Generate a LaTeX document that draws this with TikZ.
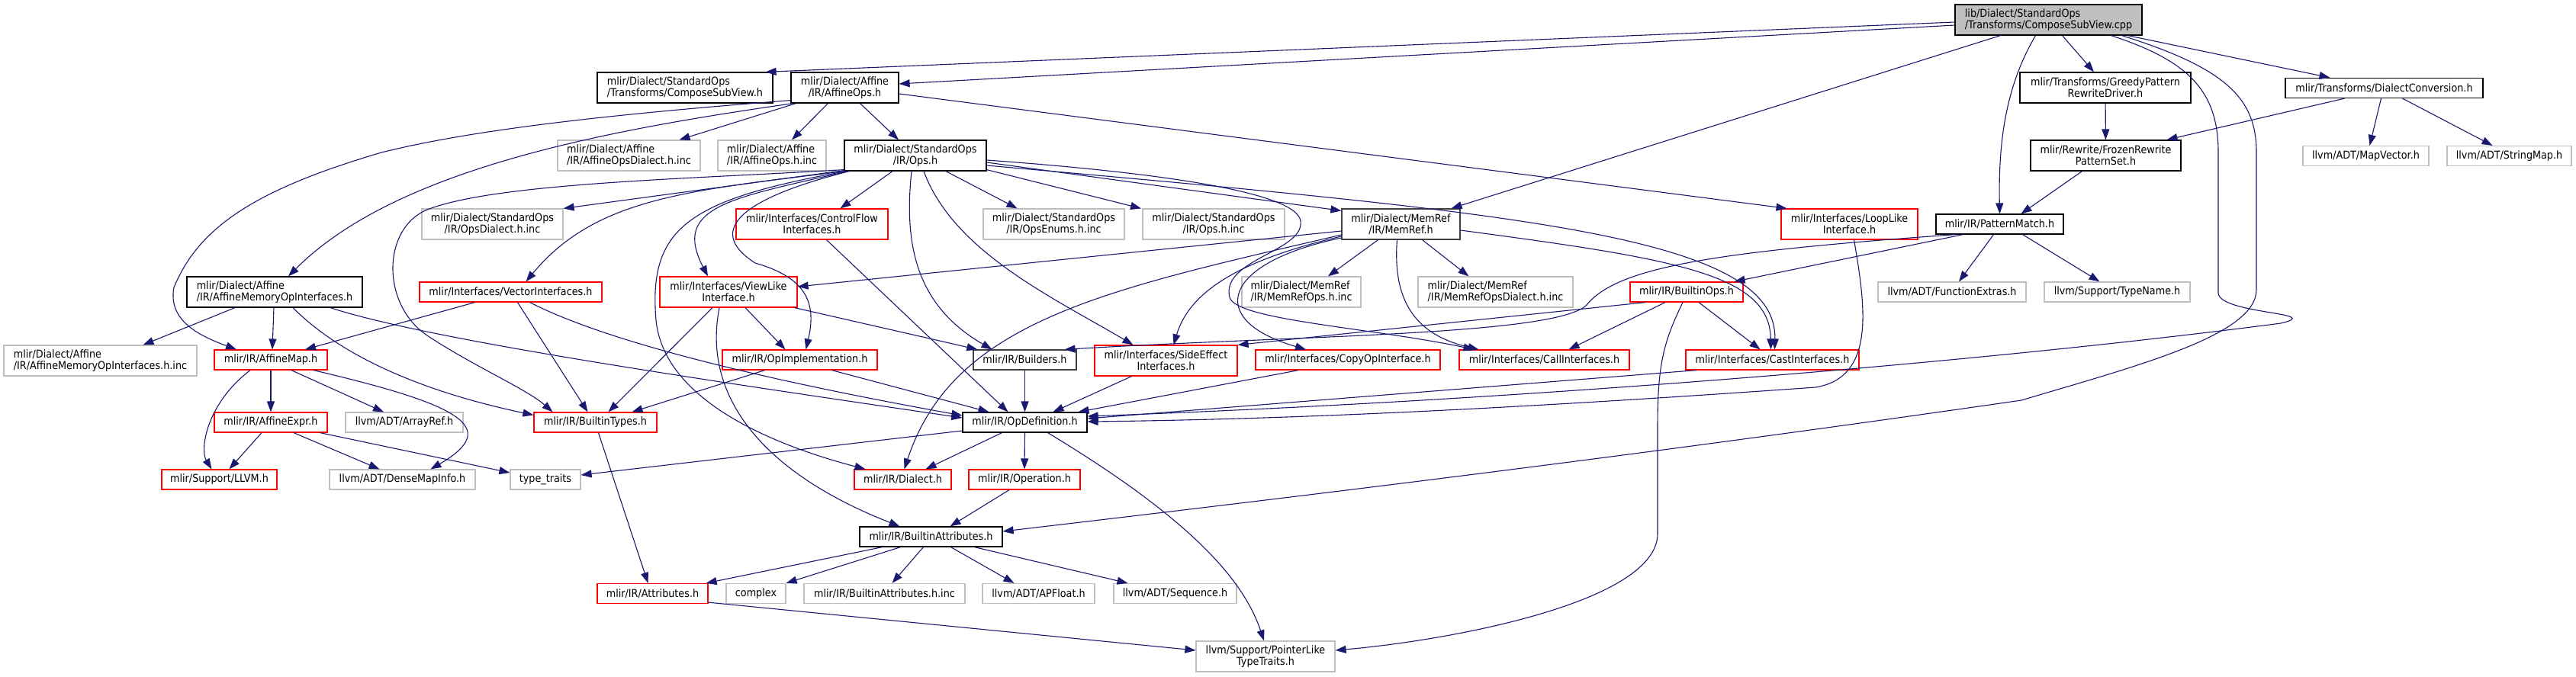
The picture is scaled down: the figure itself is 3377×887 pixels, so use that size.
\documentclass[tikz,border=0pt]{standalone}
\usepackage{fontspec}
\setmainfont{DejaVu Sans}[FakeStretch=0.9]
\usetikzlibrary{arrows.meta}
\definecolor{edgeblue}{HTML}{191970}
\definecolor{extgray}{HTML}{BFBFBF}
\tikzset{
  file/.style={draw, rectangle, inner sep=0pt, line width=1.2pt, minimum height=26pt, font=\fontsize{14.2pt}{15pt}\selectfont},
  twoline/.style={minimum height=40pt},
  hfile/.style={file, draw=black},
  rfile/.style={file, draw=red},
  xfile/.style={file, draw=extgray},
  inc/.style={draw=edgeblue, line width=1.1pt, -{Triangle[length=14pt,width=10pt]}},
}
\begin{document}
\begin{tikzpicture}[x=1pt,y=-1pt]
    \useasboundingbox (0,0) rectangle (3377,887);

    \node[hfile, fill=extgray, twoline, minimum width=245pt, align=left] (cpp) at (2685.5,26) {lib/Dialect/StandardOps\\/Transforms/ComposeSubView.cpp};

    \node[hfile, twoline, minimum width=230pt, align=left] (csv) at (898,115) {mlir/Dialect/StandardOps\\/Transforms/ComposeSubView.h};
    \node[hfile, twoline, minimum width=141pt, align=center] (aff) at (1107.5,115) {mlir/Dialect/Affine\\/IR/AffineOps.h};
    \node[hfile, twoline, minimum width=224pt, align=center] (greedy) at (2760,115) {mlir/Transforms/GreedyPattern\\RewriteDriver.h};
    \node[hfile, minimum width=259pt] (dconv) at (3125.5,115.5) {mlir/Transforms/DialectConversion.h};

    \node[xfile, twoline, minimum width=187pt, align=left] (affdi) at (824.5,204) {mlir/Dialect/Affine\\/IR/AffineOpsDialect.h.inc};
    \node[xfile, twoline, minimum width=142pt, align=left] (affinc) at (1012,204) {mlir/Dialect/Affine\\/IR/AffineOps.h.inc};
    \node[hfile, twoline, minimum width=186pt, align=center] (stdops) at (1200,204) {mlir/Dialect/StandardOps\\/IR/Ops.h};
    \node[hfile, twoline, minimum width=197pt, align=center] (frozen) at (2760.5,204) {mlir/Rewrite/FrozenRewrite\\PatternSet.h};
    \node[xfile, minimum width=165pt] (mapvec) at (3101.5,204.5) {llvm/ADT/MapVector.h};
    \node[xfile, minimum width=163pt] (strmap) at (3289.5,204.5) {llvm/ADT/StringMap.h};

    \node[xfile, twoline, minimum width=185pt, align=center] (opsdi) at (645.5,294) {mlir/Dialect/StandardOps\\/IR/OpsDialect.h.inc};
    \node[rfile, twoline, minimum width=199pt, align=center] (cflow) at (1064.5,294) {mlir/Interfaces/ControlFlow\\Interfaces.h};
    \node[xfile, twoline, minimum width=185pt, align=center] (opsenum) at (1381.5,294) {mlir/Dialect/StandardOps\\/IR/OpsEnums.h.inc};
    \node[xfile, twoline, minimum width=186pt, align=center] (opsinc) at (1591,294) {mlir/Dialect/StandardOps\\/IR/Ops.h.inc};
    \node[hfile, draw=black!75, twoline, minimum width=155pt, align=center] (memref) at (1836.5,294) {mlir/Dialect/MemRef\\/IR/MemRef.h};
    \node[rfile, twoline, minimum width=179pt, align=center] (looplike) at (2424.5,294) {mlir/Interfaces/LoopLike\\Interface.h};
    \node[hfile, minimum width=167pt] (pmatch) at (2621.5,294) {mlir/IR/PatternMatch.h};

    \node[hfile, twoline, minimum width=230pt, align=left] (amoi) at (360,383) {mlir/Dialect/Affine\\/IR/AffineMemoryOpInterfaces.h};
    \node[rfile, minimum width=239pt] (vecint) at (669.5,383) {mlir/Interfaces/VectorInterfaces.h};
    \node[rfile, twoline, minimum width=180pt, align=center] (viewlike) at (955,383) {mlir/Interfaces/ViewLike\\Interface.h};
    \node[xfile, twoline, minimum width=156pt, align=left] (mrops) at (1706,383) {mlir/Dialect/MemRef\\/IR/MemRefOps.h.inc};
    \node[xfile, twoline, minimum width=203pt, align=left] (mrdi) at (1960.5,383) {mlir/Dialect/MemRef\\/IR/MemRefOpsDialect.h.inc};
    \node[rfile, minimum width=148pt] (bops) at (2211,383) {mlir/IR/BuiltinOps.h};
    \node[xfile, minimum width=194pt] (fext) at (2559,383) {llvm/ADT/FunctionExtras.h};
    \node[xfile, minimum width=191pt] (tname) at (2775.5,383) {llvm/Support/TypeName.h};

    \node[xfile, twoline, minimum width=253pt, align=left] (amoiinc) at (131.5,473) {mlir/Dialect/Affine\\/IR/AffineMemoryOpInterfaces.h.inc};
    \node[rfile, minimum width=148pt] (amap) at (355,472) {mlir/IR/AffineMap.h};
    \node[rfile, minimum width=203pt] (opimpl) at (1048.5,472) {mlir/IR/OpImplementation.h};
    \node[hfile, draw=black!75, minimum width=135pt] (builders) at (1343.5,472) {mlir/IR/Builders.h};
    \node[rfile, twoline, minimum width=187pt, align=center] (sideeff) at (1528.5,473) {mlir/Interfaces/SideEffect\\Interfaces.h};
    \node[rfile, minimum width=242pt] (copyop) at (1767,472) {mlir/Interfaces/CopyOpInterface.h};
    \node[rfile, minimum width=223pt] (callint) at (2024.5,472) {mlir/Interfaces/CallInterfaces.h};
    \node[rfile, minimum width=227pt] (castint) at (2323.5,472) {mlir/Interfaces/CastInterfaces.h};

    \node[rfile, minimum width=148pt] (aexpr) at (355,554) {mlir/IR/AffineExpr.h};
    \node[xfile, minimum width=154pt] (aref) at (530,554) {llvm/ADT/ArrayRef.h};
    \node[rfile, minimum width=161pt] (btypes) at (780.5,554) {mlir/IR/BuiltinTypes.h};
    \node[hfile, minimum width=163pt] (opdef) at (1343.5,554) {mlir/IR/OpDefinition.h};

    \node[rfile, minimum width=151pt] (llvmh) at (287.5,629) {mlir/Support/LLVM.h};
    \node[xfile, minimum width=191pt] (dmi) at (527.5,629) {llvm/ADT/DenseMapInfo.h};
    \node[xfile, minimum width=92pt] (ttraits) at (715,629) {type\_traits};
    \node[rfile, minimum width=127pt] (dialect) at (1183.5,629) {mlir/IR/Dialect.h};
    \node[rfile, minimum width=146pt] (operation) at (1343,629) {mlir/IR/Operation.h};

    \node[hfile, minimum width=187pt] (battr) at (1220.5,704) {mlir/IR/BuiltinAttributes.h};

    \node[rfile, minimum width=145pt] (attrs) at (855.5,778.5) {mlir/IR/Attributes.h};
    \node[xfile, minimum width=78pt] (complex) at (991,778.5) {complex};
    \node[xfile, minimum width=211pt] (battrinc) at (1159.5,778.5) {mlir/IR/BuiltinAttributes.h.inc};
    \node[xfile, minimum width=147pt] (apfloat) at (1361.5,778.5) {llvm/ADT/APFloat.h};
    \node[xfile, minimum width=161pt] (seq) at (1540.5,778.5) {llvm/ADT/Sequence.h};

    \node[xfile, twoline, minimum width=182pt, align=center] (ptrlike) at (1659,861) {llvm/Support/PointerLike\\TypeTraits.h};

    \draw[inc] ([yshift=-3pt]cpp.west) -- ([xshift=-10pt]csv.north east);
    \draw[inc] ([yshift=-7pt]cpp.west) -- ([yshift=5pt]aff.east);
    \draw[inc] ([xshift=-63pt]cpp.south) -- ([xshift=66pt]memref.north);
    \draw[inc] ([xshift=-17pt]cpp.south) .. controls (2625,120) and (2620,200) .. (pmatch.north);
    \draw[inc] ([xshift=18pt]cpp.south) -- ([xshift=-15pt]greedy.north);
    \draw[inc] ([xshift=104pt]cpp.south) -- ([xshift=-71pt]dconv.north);
    \draw[inc] ([xshift=82pt]cpp.south) .. controls (2870,80) and (2908,120) .. (2908,200) -- (2908,385)
        .. controls (2912,412) and (3050,410) .. (2990,424) .. controls (2600,475) and (2000,525) .. ([yshift=8pt]opdef.east);
    \draw[inc] ([xshift=96pt]cpp.south) .. controls (2920,90) and (2958,130) .. (2958,200) -- (2958,380)
        .. controls (2958,440) and (2800,480) .. (2650,525) .. controls (2200,590) and (1800,640) .. ([yshift=7pt]battr.east);

    \draw[inc] (greedy) -- (frozen);
    \draw[inc] ([xshift=-52pt]dconv.south) -- ([xshift=80pt]frozen.north);
    \draw[inc] ([xshift=-4pt]dconv.south) -- ([xshift=5pt]mapvec.north);
    \draw[inc] ([xshift=24pt]dconv.south) -- ([xshift=-22pt]strmap.north);
    \draw[inc] ([xshift=-31pt]frozen.south) -- ([xshift=28pt]pmatch.north);

    \draw[inc] ([xshift=-58pt]pmatch.south) .. controls (2250,330) and (2120,350) .. (2080,400)
        .. controls (2040,440) and (1700,440) .. ([xshift=52pt]builders.north);
    \draw[inc] ([xshift=-48pt]pmatch.south) -- ([xshift=-12pt]bops.north east);
    \draw[inc] ([xshift=-8pt]pmatch.south) -- ([xshift=9pt]fext.north);
    \draw[inc] ([xshift=30pt]pmatch.south) -- ([xshift=-23pt]tname.north);

    \draw[inc] ([xshift=-64pt]aff.south) -- ([xshift=66pt]affdi.north);
    \draw[inc] ([xshift=-22pt]aff.south) -- ([xshift=26pt]affinc.north);
    \draw[inc] ([xshift=20pt]aff.south) -- ([xshift=-22pt]stdops.north);
    \draw[inc] ([yshift=-8pt]aff.east) -- ([xshift=-82pt]looplike.north);
    \draw[inc] ([xshift=-68pt]aff.south) .. controls (800,170) and (520,220) .. ([xshift=18pt]amoi.north);
    \draw[inc] ([yshift=4pt]aff.south west) .. controls (800,150) and (620,170) .. (500,200)
        .. controls (330,250) and (260,300) .. (228,377) .. controls (220,420) and (260,440) .. ([xshift=-45pt]amap.north);

    \draw[inc] ([yshift=2pt]stdops.south west) .. controls (900,235) and (650,240) .. (560,275)
        .. controls (500,300) and (500,400) .. (560,440) .. controls (620,480) and (690,510) .. ([xshift=-56pt]btypes.north);
    \draw[inc] ([yshift=1pt]stdops.south west) -- (opsdi.north east);
    \draw[inc] ([xshift=1pt]stdops.south west) .. controls (900,250) and (780,260) .. ([xshift=20pt]vecint.north);
    \draw[inc] ([xshift=3pt]stdops.south west) .. controls (900,262) and (850,300) .. (860,420)
        .. controls (870,520) and (1000,580) .. ([xshift=-49pt]dialect.north);
    \draw[inc] ([xshift=5pt]stdops.south west) .. controls (960,260) and (880,270) .. ([xshift=-27pt]viewlike.north);
    \draw[inc] ([xshift=7pt]stdops.south west) .. controls (980,258) and (920,300) .. (990,345)
        .. controls (1060,365) and (1070,400) .. ([xshift=8pt]opimpl.north);
    \draw[inc] ([xshift=-30pt]stdops.south) -- ([xshift=37pt]cflow.north);
    \draw[inc] ([xshift=-5pt]stdops.south) .. controls (1185,320) and (1200,400) .. ([xshift=-43pt]builders.north);
    \draw[inc] ([xshift=11pt]stdops.south) .. controls (1250,330) and (1380,390) .. ([xshift=-43pt]sideeff.north);
    \draw[inc] ([xshift=40pt]stdops.south) -- ([xshift=-48pt]opsenum.north);
    \draw[inc] ([yshift=2pt]stdops.south east) -- ([xshift=-95pt]opsinc.north);
    \draw[inc] ([yshift=-6pt]stdops.east) .. controls (1500,225) and (1700,250) .. (1705,290)
        .. controls (1710,330) and (1600,340) .. (1612,390) .. controls (1620,420) and (1800,430) .. ([xshift=-92pt]callint.north);
    \draw[inc] ([yshift=-9pt]stdops.east) -- ([yshift=-3pt]memref.north west);
    \draw[inc] ([yshift=-13pt]stdops.east) .. controls (2000,280) and (2330,310) .. ([xshift=3pt]castint.north);

    \draw[inc] ([yshift=-9pt]memref.west) -- ([yshift=7pt]viewlike.east);
    \draw[inc] ([yshift=-14pt]memref.west) .. controls (1450,380) and (1250,420) .. ([xshift=2pt]dialect.north);
    \draw[inc] ([yshift=-16pt]memref.west) .. controls (1630,340) and (1560,380) .. ([xshift=10pt]sideeff.north);
    \draw[inc] ([yshift=-18pt]memref.west) .. controls (1600,345) and (1580,420) .. ([xshift=-55pt]copyop.north);
    \draw[inc] ([xshift=-30pt]memref.south) -- ([xshift=35pt]mrops.north);
    \draw[inc] ([xshift=-5pt]memref.south) .. controls (1825,400) and (1860,440) .. ([xshift=-86pt]callint.north);
    \draw[inc] ([xshift=28pt]memref.south) -- ([xshift=-35pt]mrdi.north);
    \draw[inc] ([yshift=-8pt]memref.east) .. controls (2200,340) and (2320,360) .. ([xshift=-2pt]castint.north);

    \draw[inc] ([xshift=6pt]looplike.south) .. controls (2445,400) and (2460,495) .. (2380,508)
        .. controls (2000,535) and (1700,550) .. ([yshift=1pt]opdef.east);
    \draw[inc] ([xshift=-100pt]castint.south) -- ([yshift=5pt]opdef.east);

    \draw[inc] ([xshift=-54pt]bops.south) -- (sideeff.north east);
    \draw[inc] ([xshift=-28pt]bops.south) -- ([xshift=32pt]callint.north);
    \draw[inc] ([xshift=-5pt]bops.south) .. controls (2180,450) and (2173,480) .. (2173,560) -- (2173,700)
        .. controls (2173,790) and (1900,840) .. ([yshift=8pt]ptrlike.east);
    \draw[inc] ([xshift=16pt]bops.south) -- ([xshift=-16pt]castint.north);

    \draw[inc] ([xshift=-52pt]amoi.south) -- ([xshift=56pt]amoiinc.north);
    \draw[inc] ([xshift=-1pt]amoi.south) -- ([xshift=2pt]amap.north);
    \draw[inc] ([xshift=24pt]amoi.south) .. controls (450,470) and (560,515) .. ([yshift=-4pt]btypes.north west);
    \draw[inc] ([xshift=73pt]amoi.south) .. controls (560,445) and (900,495) .. ([yshift=6pt]opdef.west);

    \draw[inc] ([xshift=-47pt]vecint.south) -- ([xshift=45pt]amap.north);
    \draw[inc] ([xshift=9pt]vecint.south) -- ([xshift=-10pt]btypes.north);
    \draw[inc] ([xshift=25pt]vecint.south) .. controls (760,430) and (900,480) .. ([yshift=9pt]opdef.west);

    \draw[inc] ([xshift=-21pt]viewlike.south) -- ([xshift=17pt]btypes.north);
    \draw[inc] ([xshift=-12pt]viewlike.south) .. controls (920,520) and (1000,620) .. ([xshift=-41pt]battr.north);
    \draw[inc] ([xshift=22pt]viewlike.south) -- ([xshift=-19pt]opimpl.north);
    \draw[inc] ([xshift=-4pt]viewlike.south east) -- ([xshift=6pt]builders.north west);

    \draw[inc] ([xshift=-46pt]opimpl.south) -- ([xshift=48pt]btypes.north);
    \draw[inc] ([xshift=42pt]opimpl.south) -- ([xshift=-47pt]opdef.north);
    \draw[inc] ([xshift=19pt]cflow.south) -- ([xshift=-22pt]opdef.north);
    \draw[inc] (builders) -- (opdef);
    \draw[inc] ([xshift=-45pt]sideeff.south) -- ([xshift=37pt]opdef.north);
    \draw[inc] ([xshift=-65pt]copyop.south) -- ([xshift=70pt]opdef.north);

    \draw[inc] ([yshift=-11pt]opdef.west) -- ([yshift=6pt]ttraits.east);
    \draw[inc] ([xshift=-30pt]opdef.south) -- ([xshift=30pt]dialect.north);
    \draw[inc] (opdef.south) -- (operation.north);
    \draw[inc] ([xshift=30pt]opdef.south) .. controls (1560,680) and (1630,760) .. ([xshift=-2pt]ptrlike.north);
    \draw[inc] ([xshift=-20pt]operation.south) -- ([xshift=25pt]battr.north);

    \draw[inc] ([xshift=4pt]btypes.south) -- ([xshift=-6pt]attrs.north);
    \draw[inc] ([xshift=-64pt]battr.south) -- ([xshift=-3pt]attrs.north east);
    \draw[inc] ([xshift=-40pt]battr.south) -- (complex.north east);
    \draw[inc] ([xshift=-10pt]battr.south) -- ([xshift=10pt]battrinc.north);
    \draw[inc] ([xshift=26pt]battr.south) -- ([xshift=-32pt]apfloat.north);
    \draw[inc] ([xshift=57pt]battr.south) -- ([xshift=-62pt]seq.north);
    \draw[inc] ([yshift=2pt]attrs.south east) -- ([yshift=8pt]ptrlike.west);

    \draw[inc] ([xshift=-27pt]amap.south) .. controls (270,530) and (262,590) .. ([xshift=-10pt]llvmh.north);
    \draw[inc] (amap) -- (aexpr);
    \draw[inc] ([xshift=27pt]amap.south) -- ([xshift=-27pt]aref.north);
    \draw[inc] ([xshift=56pt]amap.south) .. controls (600,530) and (660,560) .. ([xshift=37pt]dmi.north);
    \draw[inc] ([xshift=-12pt]aexpr.south) -- ([xshift=13pt]llvmh.north);
    \draw[inc] ([xshift=30pt]aexpr.south) -- ([xshift=-30pt]dmi.north);
    \draw[inc] ([xshift=-10pt]aexpr.south east) -- ([yshift=9pt]ttraits.west);
\end{tikzpicture}
\end{document}
